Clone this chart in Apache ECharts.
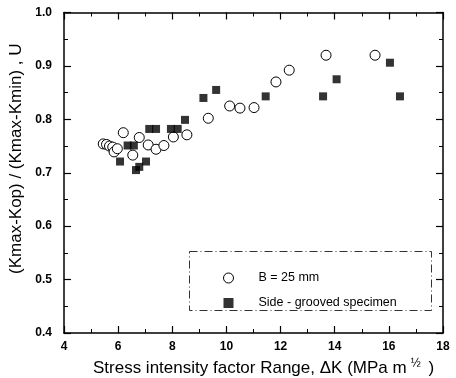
<!DOCTYPE html>
<html>
<head>
<meta charset="utf-8">
<script src="https://cdn.jsdelivr.net/npm/echarts@6/dist/echarts.min.js"></script>
<style>html,body{margin:0;padding:0;background:#fff}#c{width:456px;height:378px}</style>
</head>
<body>
<div id="c"></div>
<script>
const circleX = [5.45, 5.57, 5.68, 5.80, 5.85, 5.97, 6.19, 6.54, 6.78, 7.11, 7.40, 7.69, 8.04, 8.54, 9.33, 10.12, 10.50, 11.02, 11.83, 12.32, 13.68, 15.49];
const circleY = [0.754, 0.753, 0.750, 0.748, 0.739, 0.745, 0.775, 0.733, 0.766, 0.752, 0.744, 0.751, 0.767, 0.771, 0.802, 0.825, 0.821, 0.822, 0.870, 0.892, 0.920, 0.920];
const squareX = [6.07, 6.35, 6.58, 6.66, 6.78, 7.03, 7.15, 7.40, 7.95, 8.20, 8.47, 9.15, 9.62, 11.45, 13.57, 14.07, 16.04, 16.41];
const squareY = [0.721, 0.751, 0.751, 0.705, 0.711, 0.721, 0.782, 0.782, 0.782, 0.782, 0.799, 0.840, 0.855, 0.843, 0.843, 0.875, 0.906, 0.843];
const seriesNames = ['B = 25 mm', 'Side - grooved specimen'];
const xTitle = 'Stress intensity factor Range, ΔK (MPa m';
const yTitle = '(Kmax-Kop) / (Kmax-Kmin) , U';

const FONT = '"Liberation Sans", Arial, sans-serif';
const pairs = (xs, ys) => xs.map((x, i) => [x, ys[i]]);

const axisCommon = {
  axisLine: { lineStyle: { color: '#000', width: 1.5 } },
  axisTick: { inside: true, length: 7, lineStyle: { color: '#000', width: 1.2 } },
  minorTick: { show: true, splitNumber: 2, length: 4, lineStyle: { color: '#000', width: 1 } },
  splitLine: { show: false }
};

const chart = echarts.init(document.getElementById('c'), null, { renderer: 'canvas' });
chart.setOption({
  animation: false,
  backgroundColor: '#fff',
  grid: { left: 64, right: 13, top: 12.5, bottom: 45, containLabel: false, outerBoundsMode: 'none' },
  xAxis: [
    Object.assign({}, axisCommon, {
      type: 'value', min: 4, max: 18, interval: 2, position: 'bottom',
      axisLabel: { color: '#000', fontFamily: FONT, fontSize: 12, fontWeight: 'bold', margin: 8 },
      name: '{t|' + xTitle + '}{f|½}{t| )}',
      nameLocation: 'middle', nameGap: 25,
      nameTextStyle: {
        padding: [0, 0, 0, 20],
        rich: {
          t: { fontFamily: FONT, fontSize: 17, color: '#000' },
          f: { fontFamily: FONT, fontSize: 12, color: '#000', verticalAlign: 'top', padding: [0, 3, 8, 4] }
        }
      }
    }),
    Object.assign({}, axisCommon, {
      type: 'value', min: 4, max: 18, interval: 2, position: 'top',
      axisLabel: { show: false }
    })
  ],
  yAxis: [
    Object.assign({}, axisCommon, {
      type: 'value', min: 0.4, max: 1.0, interval: 0.1, position: 'left',
      axisLabel: { color: '#000', fontFamily: FONT, fontSize: 12, fontWeight: 'bold', margin: 12,
        formatter: v => v.toFixed(1) },
      name: yTitle, nameLocation: 'middle', nameGap: 31, nameRotate: 90,
      nameTextStyle: { fontFamily: FONT, fontSize: 17, color: '#000', padding: [0, 0, 0, 28] }
    }),
    Object.assign({}, axisCommon, {
      type: 'value', min: 0.4, max: 1.0, interval: 0.1, position: 'right',
      axisLabel: { show: false }
    })
  ],
  legend: {
    orient: 'vertical', left: 218, top: 266, itemGap: 11,
    itemWidth: 10, itemHeight: 10,
    textStyle: { fontFamily: FONT, fontSize: 12.5, color: '#000', padding: [0, 0, 0, 20], lineHeight: 14 },
    data: [
      { name: seriesNames[0], itemStyle: { color: '#fff', borderColor: '#000', borderWidth: 1 } },
      { name: seriesNames[1], itemStyle: { color: '#000', borderWidth: 0 } }
    ]
  },
  graphic: [{
    type: 'rect', left: 187, top: 249, z: 0,
    shape: { width: 242, height: 59 },
    style: { fill: 'none', stroke: '#333', lineWidth: 1, lineDash: [8, 3, 1, 3] }
  }],
  series: [
    {
      name: seriesNames[0], type: 'scatter', symbol: 'circle', symbolSize: 10,
      itemStyle: { color: '#fff', borderColor: '#000', borderWidth: 1, opacity: 1 },
      data: pairs(circleX, circleY), z: 3
    },
    {
      name: seriesNames[1], type: 'scatter', symbol: 'rect', symbolSize: 8,
      itemStyle: { color: '#000' },
      data: pairs(squareX, squareY), z: 4
    }
  ]
});
</script>
</body>
</html>
